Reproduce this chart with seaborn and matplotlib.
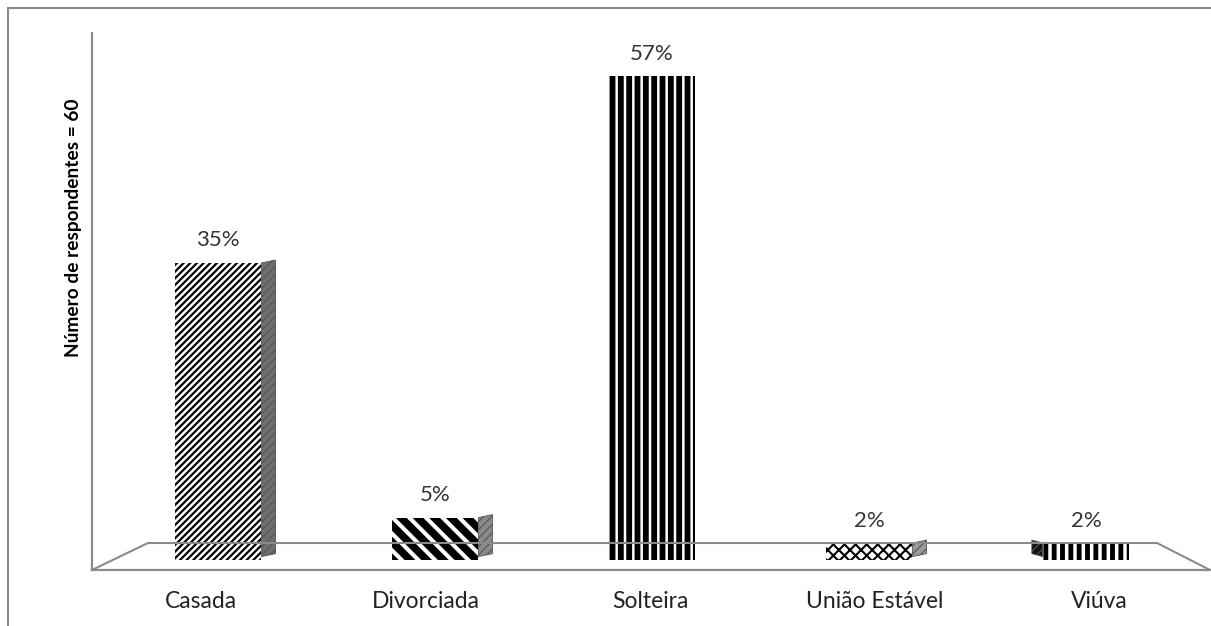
import matplotlib
matplotlib.use("Agg")
import matplotlib.pyplot as plt
from matplotlib.lines import Line2D
import seaborn as sns


categories = ["Casada", "Divorciada", "Solteira", "União Estável", "Viúva"]
percent = [35, 5, 57, 2, 2]
labels = ["35%", "5%", "57%", "2%", "2%"]
hatches = ["/////", "\\\\", "||", "xxx", "||"]
hatch_widths = [1.6, 5.5, 4.2, 1.5, 3.5]
side_colors = ["#6e6e6e", "#8a8a8a", None, "#9a9a9a", "#111111"]

sns.set_theme(style="white")
plt.rcParams["font.family"] = ["Lato", "DejaVu Sans"]

W, H = 1211, 626
fig = plt.figure(figsize=(W / 100, H / 100), dpi=100)
ax = fig.add_axes([92 / W, (H - 570) / H, 1118 / W, 537 / H])

sns.barplot(x=categories, y=percent, hue=categories, palette=["white"] * 5,
            legend=False, width=0.4, saturation=1, ax=ax)

ax.set_xlim(-0.581, 4.571)
ax.set_ylim(-1.18, 62.1)

gray = "#8a8a8a"
for i, (bar, hatch, hw, sc) in enumerate(zip(ax.patches, hatches, hatch_widths, side_colors)):
    plt.rcParams["hatch.linewidth"] = hw
    bar.set_hatch(hatch)
    bar.set_edgecolor("black")
    bar.set_linewidth(0)
    if hasattr(bar, "set_hatch_linewidth"):
        bar.set_hatch_linewidth(hw)
    if sc is None:
        continue
    # narrow side face to fake the 3D depth (Viúva shows it on the left)
    h = bar.get_height()
    if i == 4:
        x1, dx = bar.get_x(), -0.05
    else:
        x1, dx = bar.get_x() + bar.get_width(), 0.065
    dy = 0.35
    plt.rcParams["hatch.linewidth"] = 0.8
    ax.fill([x1, x1 + dx, x1 + dx, x1], [0.4, 0.4 + dy, h + dy, h],
            facecolor=sc, edgecolor="#555555", linewidth=0.6, hatch="////", zorder=1)

for cont, lab in zip(ax.containers, labels):
    ax.bar_label(cont, labels=[lab], padding=9, fontsize=16, color="#333333")

# the pseudo-3D perspective puts the category names slightly off the bars
label_pos = [i + (-17 + 7.5 * i) / 217 for i in range(len(categories))]
ax.set_xticks(label_pos, categories)

# floor of the pseudo 3D chart
tr = ax.transAxes
floor_y = (570 - 543) / 537
ax.add_line(Line2D([0, (148 - 92) / 1118, (1157 - 92) / 1118, 1.0],
                   [0, floor_y, floor_y, 0], transform=tr, color=gray, lw=1.5,
                   clip_on=False))

for side in ["top", "right"]:
    ax.spines[side].set_visible(False)
for side in ["left", "bottom"]:
    ax.spines[side].set_color(gray)
    ax.spines[side].set_linewidth(1.6)

ax.set_yticks([])
ax.tick_params(axis="x", length=0, pad=15, labelsize=16.5, labelcolor="#222222")
ax.set_xlabel("")
ax.set_ylabel("Número de respondentes = 60", fontsize=13.8, fontweight="bold",
              color="black")
ax.yaxis.set_label_coords(-0.009, 0.637)

# outer chart frame
fig.add_artist(Line2D([8 / W, 8 / W], [0, 1 - 8 / H], transform=fig.transFigure,
                      color=gray, lw=1.5))
fig.add_artist(Line2D([8 / W, 1], [1 - 8 / H, 1 - 8 / H], transform=fig.transFigure,
                      color=gray, lw=1.5))

fig.savefig("out.png", dpi=100, facecolor="white")
